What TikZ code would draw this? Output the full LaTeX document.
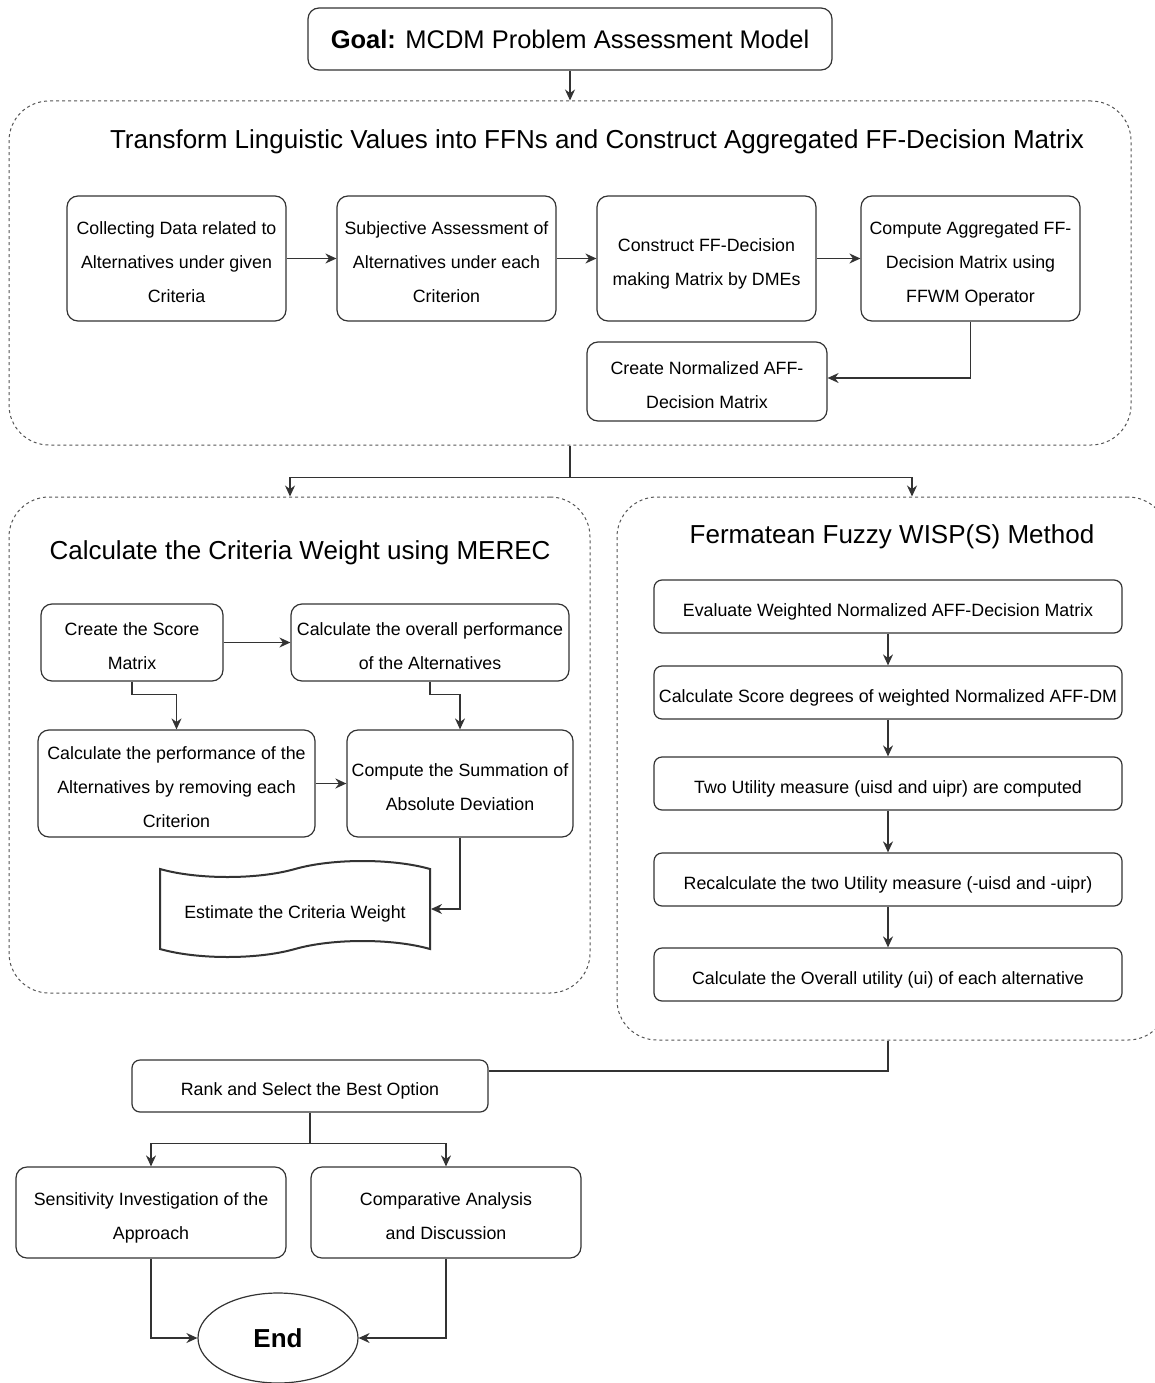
\documentclass[tikz,border=0pt]{standalone}
\usepackage{fontspec}
\setmainfont{Liberation Sans}
\usetikzlibrary{arrows.meta,shapes.geometric,shapes.symbols}
\definecolor{bord}{HTML}{333333}
\definecolor{dash}{HTML}{555555}
\newcommand\mytop{\rule{0pt}{23pt}}
\newcommand\mybot{\rule[-4pt]{0pt}{4pt}}
\begin{document}
\begin{tikzpicture}[x=1pt,y=-1pt,
 box/.style={draw=bord, line width=1.2pt, rounded corners=11pt, align=center, inner sep=0pt,
   font=\fontsize{17.8}{34}\selectfont, text=black},
 grp/.style={draw=dash, dash pattern=on 3pt off 3pt, line width=1pt, rounded corners=40pt, inner sep=0pt},
 ttl/.style={font=\fontsize{26}{30}\selectfont, inner sep=0pt, text=black},
 arr/.style={-{Stealth[length=11pt,width=10pt]}, line width=1.2pt, draw=bord},
 ln/.style={line width=1.2pt, draw=bord},
]
\useasboundingbox (0,0) rectangle (1155,1383);

% Goal
\node[box, font=\fontsize{25.5}{30}\selectfont, minimum width=524, minimum height=62] (goal) at (570,39)
  {\textbf{Goal:} MCDM Problem Assessment Model};

% Group 1
\node[grp, minimum width=1122, minimum height=344] (g1) at (570,273) {};
\node[ttl] (t1) at (597,142) {Transform Linguistic Values into FFNs and Construct Aggregated FF-Decision Matrix};
\node[box, minimum width=219, minimum height=125] (b1) at (176.5,258.5) {\mytop Collecting Data related to\\Alternatives under given\\Criteria\mybot};
\node[box, minimum width=219, minimum height=125] (b2) at (446.5,258.5) {\mytop Subjective Assessment of\\Alternatives under each\\Criterion\mybot};
\node[box, minimum width=219, minimum height=125] (b3) at (706.5,258.5) {\mytop Construct FF-Decision\\making Matrix by DMEs\mybot};
\node[box, minimum width=219, minimum height=125] (b4) at (970.5,258.5) {\mytop Compute Aggregated FF-\\Decision Matrix using\\FFWM Operator\mybot};
\node[box, minimum width=240, minimum height=79] (b5) at (707,381.5) {\mytop Create Normalized AFF-\\Decision Matrix\mybot};

\draw[arr] (goal.south) -- (g1.north);
\draw[arr] (b1.east) -- (b2.west);
\draw[arr] (b2.east) -- (b3.west);
\draw[arr] (b3.east) -- (b4.west);
\draw[arr] (b4.south) |- ([yshift=3.5pt]b5.east);

% Group 2
\node[grp, minimum width=581, minimum height=496] (g2) at (299.5,745) {};
\node[ttl] (t2) at (300,553) {Calculate the Criteria Weight using MEREC};
\node[box, minimum width=182, minimum height=77] (c1) at (132,642.5) {\mytop Create the Score\\Matrix\mybot};
\node[box, minimum width=278, minimum height=77] (c2) at (430,642.5) {\mytop Calculate the overall performance\\of the Alternatives\mybot};
\node[box, minimum width=277, minimum height=107] (c3) at (176.5,783.5) {\mytop Calculate the performance of the\\Alternatives by removing each\\Criterion\mybot};
\node[box, minimum width=226, minimum height=107] (c4) at (460,783.5) {\mytop Compute the Summation of\\Absolute Deviation\mybot};
\node[tape, draw=bord, line width=2pt, tape bend top=in and out, tape bend bottom=in and out,
  tape bend height=16pt, minimum width=270, minimum height=96, inner sep=0pt,
  font=\fontsize{17.8}{34}\selectfont] (c5) at (295,909) {\mytop Estimate the Criteria Weight\mybot};

\draw[arr] (c1.east) -- (c2.west);
\draw[arr] (c1.south) -- ++(0,13) -| (c3.north);
\draw[arr] (c2.south) -- ++(0,13) -| (c4.north);
\draw[arr, line width=1.8pt] (c3.east) -- (c4.west);
\draw[arr] (c4.south) |- (c5.east);

% Group 3
\node[grp, minimum width=551, minimum height=543] (g3) at (892.5,768.5) {};
\node[ttl] (t3) at (892,537) {Fermatean Fuzzy WISP(S) Method};
\node[box, rounded corners=8pt, minimum width=468, minimum height=53] (d1) at (888,606.5) {\mytop Evaluate Weighted Normalized AFF-Decision Matrix\mybot};
\node[box, rounded corners=8pt, minimum width=468, minimum height=53] (d2) at (888,692.5) {\mytop Calculate Score degrees of weighted Normalized AFF-DM\mybot};
\node[box, rounded corners=8pt, minimum width=468, minimum height=53] (d3) at (888,783.5) {\mytop Two Utility measure (uisd and uipr) are computed\mybot};
\node[box, rounded corners=8pt, minimum width=468, minimum height=53] (d4) at (888,879.5) {\mytop Recalculate the two Utility measure (-uisd and -uipr)\mybot};
\node[box, rounded corners=8pt, minimum width=468, minimum height=53] (d5) at (888,974.5) {\mytop Calculate the Overall utility (ui) of each alternative\mybot};

\draw[arr] (d1.south) -- (d2.north);
\draw[arr] (d2.south) -- (d3.north);
\draw[arr, line width=1.6pt] (d3.south) -- (d4.north);
\draw[arr, line width=1.6pt] (d4.south) -- (d5.north);

% branch from group 1
\draw[arr] (g1.south) -- ++(0,32) -| ([xshift=-9.5pt]g2.north);
\draw[arr] (g1.south) -- ++(0,32) -| ([xshift=19.5pt]g3.north);

% Bottom part
\node[box, rounded corners=8pt, minimum width=356, minimum height=52] (rank) at (310,1086) {\mytop Rank and Select the Best Option\mybot};
\node[box, minimum width=270, minimum height=91] (s1) at (151,1212.5) {\mytop Sensitivity Investigation of the\\Approach\mybot};
\node[box, minimum width=270, minimum height=91] (s2) at (446,1212.5) {\mytop Comparative Analysis\\and Discussion\mybot};
\node[ellipse, draw=bord, line width=1.2pt, minimum width=160, minimum height=90, inner sep=0pt,
  font=\fontsize{26}{30}\selectfont\bfseries] (end) at (278,1338) {End};

\draw[ln] ([xshift=-4.5pt]g3.south) |- ([yshift=15pt]rank.east);
\draw[arr] (rank.south) -- ++(0,31) -| (s1.north);
\draw[arr] (rank.south) -- ++(0,31) -| (s2.north);
\draw[arr] (s1.south) |- (end.west);
\draw[arr] (s2.south) |- (end.east);
\end{tikzpicture}
\end{document}
